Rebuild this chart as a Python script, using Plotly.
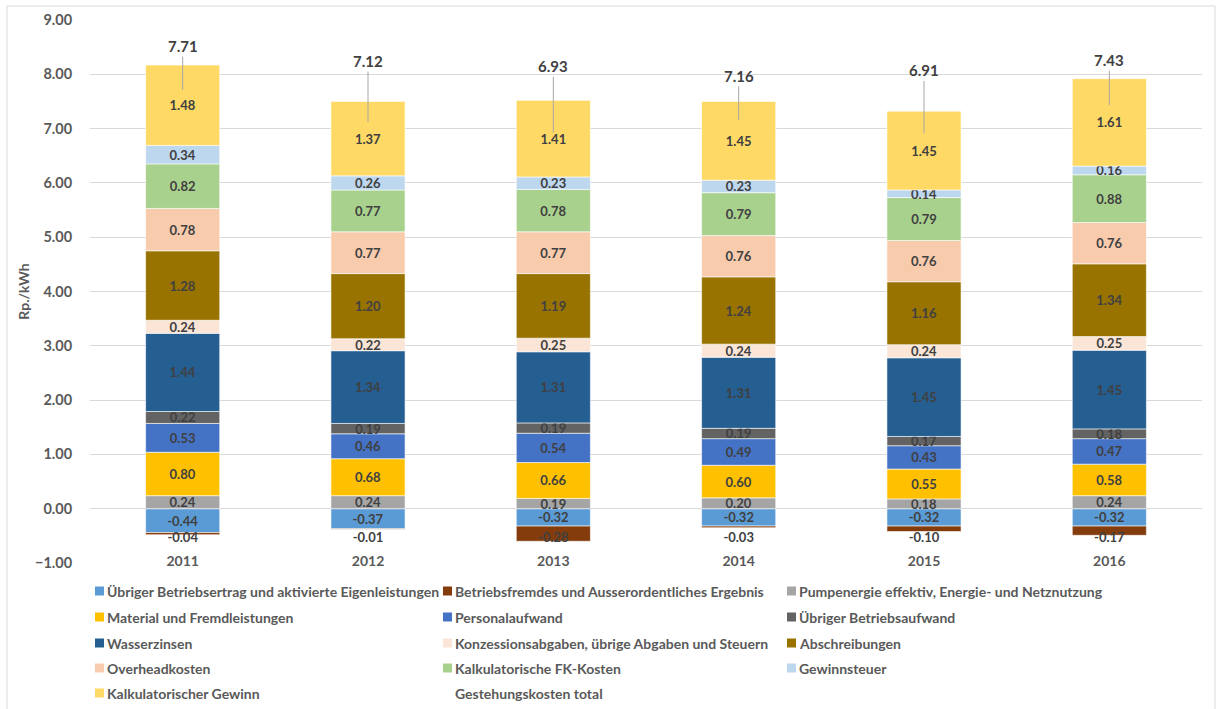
import plotly.graph_objects as go

# Cost components per year, Rp./kWh (stacked from bottom to top)
years = ["2011", "2012", "2013", "2014", "2015", "2016"]

uebriger_betriebsertrag = [-0.44, -0.37, -0.32, -0.32, -0.32, -0.32]
betriebsfremdes = [-0.04, -0.01, -0.28, -0.03, -0.10, -0.17]
pumpenergie = [0.24, 0.24, 0.19, 0.20, 0.18, 0.24]
material = [0.80, 0.68, 0.66, 0.60, 0.55, 0.58]
personalaufwand = [0.53, 0.46, 0.54, 0.49, 0.43, 0.47]
uebriger_betriebsaufwand = [0.22, 0.19, 0.19, 0.19, 0.17, 0.18]
wasserzinsen = [1.44, 1.34, 1.31, 1.31, 1.45, 1.45]
konzessionsabgaben = [0.24, 0.22, 0.25, 0.24, 0.24, 0.25]
abschreibungen = [1.28, 1.20, 1.19, 1.24, 1.16, 1.34]
overheadkosten = [0.78, 0.77, 0.77, 0.76, 0.76, 0.76]
kalk_fk_kosten = [0.82, 0.77, 0.78, 0.79, 0.79, 0.88]
gewinnsteuer = [0.34, 0.26, 0.23, 0.23, 0.14, 0.16]
kalk_gewinn = [1.48, 1.37, 1.41, 1.45, 1.45, 1.61]
gestehungskosten_total = [7.71, 7.12, 6.93, 7.16, 6.91, 7.43]

series = [
    ("Übriger Betriebsertrag und aktivierte Eigenleistungen", uebriger_betriebsertrag, "#5B9BD5"),
    ("Betriebsfremdes und Ausserordentliches Ergebnis", betriebsfremdes, "#843C0C"),
    ("Pumpenergie effektiv, Energie- und Netznutzung", pumpenergie, "#A5A5A5"),
    ("Material und Fremdleistungen", material, "#FFC000"),
    ("Personalaufwand", personalaufwand, "#4472C4"),
    ("Übriger Betriebsaufwand", uebriger_betriebsaufwand, "#636363"),
    ("Wasserzinsen", wasserzinsen, "#255E91"),
    ("Konzessionsabgaben, übrige Abgaben und Steuern", konzessionsabgaben, "#FBE5D6"),
    ("Abschreibungen", abschreibungen, "#997300"),
    ("Overheadkosten", overheadkosten, "#F8CBAD"),
    ("Kalkulatorische FK-Kosten", kalk_fk_kosten, "#A9D18E"),
    ("Gewinnsteuer", gewinnsteuer, "#BDD7EE"),
    ("Kalkulatorischer Gewinn", kalk_gewinn, "#FFD966"),
]
total_name = "Gestehungskosten total"

FONT = "Lato, 'Open Sans', sans-serif"
LABEL_COLOR = "#404040"
AXIS_COLOR = "#595959"

# plot-area geometry in pixels (used for paper-coordinate placement)
W, H = 1216, 709
ML, MR, MT, MB = 90, 14, 20, 146
PW, PH = W - ML - MR, H - MT - MB


def px_x(px):
    return (px - ML) / PW


def px_y(py):
    return (H - MB - py) / PH


fig = go.Figure()

for name, values, color in series:
    small_neg = values is betriebsfremdes
    fig.add_trace(go.Bar(
        x=years, y=values, name=name,
        marker=dict(color=color, line=dict(color="white", width=0.6)),
        text=None if small_neg else [f"{v:.2f}" for v in values],
        textposition="none" if small_neg else "inside",
        insidetextanchor="middle",
        constraintext="none",
        textfont=dict(family=FONT, size=13, color=LABEL_COLOR, weight="bold"),
        insidetextfont=dict(family=FONT, size=13, color=LABEL_COLOR, weight="bold"),
        hoverinfo="skip", showlegend=False,
    ))

# labels of the thin "Betriebsfremdes" segments sit just below the stack
fig.add_trace(go.Scatter(
    x=years, y=[-0.55] * len(years), mode="text",
    text=[f"{v:.2f}" for v in betriebsfremdes],
    textfont=dict(family=FONT, size=13, color=LABEL_COLOR, weight="bold"),
    hoverinfo="skip", showlegend=False,
))

# total cost: invisible points with labels lifted above on leader lines
fig.add_trace(go.Scatter(
    x=years, y=gestehungskosten_total, mode="markers", name=total_name,
    marker=dict(size=1, color="rgba(0,0,0,0)"),
    hoverinfo="skip", showlegend=False,
))
total_label_lift = [-44, -61, -66, -44, -63, -45]
for i, (tot, lift) in enumerate(zip(gestehungskosten_total, total_label_lift)):
    fig.add_annotation(
        x=i, y=tot, xref="x", yref="y", text=f"{tot:.2f}",
        showarrow=True, arrowhead=0, arrowwidth=1, arrowcolor="#A6A6A6",
        ax=0, ay=lift, standoff=0,
        font=dict(family=FONT, size=15, color=LABEL_COLOR, weight="bold"),
    )

# legend: three columns, five rows
legend_cols = [95, 443, 787]
legend_rows = [591, 617, 643, 668, 693]
entries = [(n, c) for n, _, c in series] + [(total_name, None)]
for i, (name, color) in enumerate(entries):
    cx = legend_cols[i % 3]
    cy = legend_rows[i // 3]
    if color is not None:
        fig.add_shape(
            type="rect", xref="paper", yref="paper",
            x0=px_x(cx), x1=px_x(cx + 9), y0=px_y(cy + 4.5), y1=px_y(cy - 4.5),
            fillcolor=color, line=dict(width=0),
        )
    fig.add_annotation(
        xref="paper", yref="paper", x=px_x(cx + 10), y=px_y(cy),
        text=name, showarrow=False, xanchor="left", yanchor="middle",
        font=dict(family=FONT, size=14, color=AXIS_COLOR, weight="bold"),
    )

# light chart border
fig.add_shape(
    type="rect", xref="paper", yref="paper",
    x0=px_x(7), x1=px_x(1215), y0=px_y(715), y1=px_y(6),
    line=dict(color="#D9D9D9", width=1), fillcolor="rgba(0,0,0,0)", layer="below",
)

fig.update_layout(
    width=W, height=H,
    margin=dict(l=ML, r=MR, t=MT, b=MB, autoexpand=False),
    barmode="relative", bargap=0.6,
    plot_bgcolor="white", paper_bgcolor="white",
    font=dict(family=FONT, color=AXIS_COLOR),
    showlegend=False,
    xaxis=dict(
        type="category", categoryorder="array", categoryarray=years,
        range=[-0.5, len(years) - 0.5],
        anchor="free", position=px_y(551),
        showgrid=False, showline=False, zeroline=False, ticks="",
        tickfont=dict(family=FONT, size=14, color=AXIS_COLOR, weight="bold"),
    ),
    yaxis=dict(
        range=[-1, 9], dtick=1, tick0=0, tickformat=".2f",
        showgrid=True, gridcolor="#D9D9D9", gridwidth=1,
        zeroline=False, showline=False, ticks="outside", ticklen=14,
        tickcolor="rgba(0,0,0,0)",
        tickfont=dict(family=FONT, size=14.5, color=AXIS_COLOR, weight="bold"),
        title=dict(text="Rp./kWh", standoff=2,
                   font=dict(family=FONT, size=14, color=AXIS_COLOR, weight="bold")),
    ),
)

fig.write_html("out.html")
